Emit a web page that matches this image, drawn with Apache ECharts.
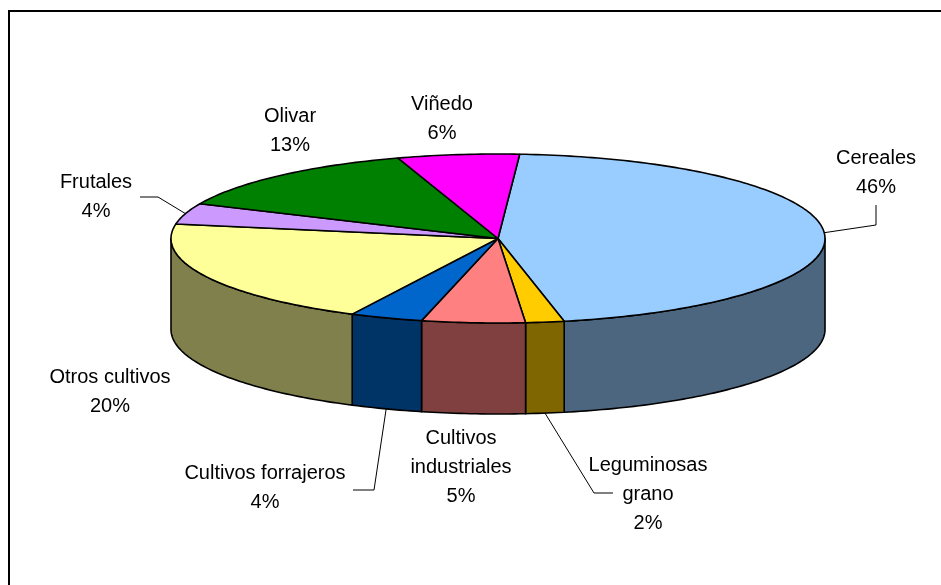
<!DOCTYPE html>
<html>
<head>
<meta charset="utf-8">
<script src="https://cdn.jsdelivr.net/npm/echarts@6/dist/echarts.min.js"></script>
<style>
html,body{margin:0;padding:0;background:#fff;}
#main{width:941px;height:585px;}
</style>
</head>
<body>
<div id="main"></div>
<script>
// datos (porcentajes)
const categories = ['Cereales', 'Leguminosas grano', 'Cultivos industriales', 'Cultivos forrajeros', 'Otros cultivos', 'Frutales', 'Olivar', 'Viñedo'];
const labelNames = ['Cereales', 'Leguminosas\ngrano', 'Cultivos\nindustriales', 'Cultivos forrajeros', 'Otros cultivos', 'Frutales', 'Olivar', 'Viñedo'];
const values = [45.7, 1.9, 5.1, 3.6, 20.4, 4.0, 13.3, 6.0];
const topColors = ['#99CCFF', '#FFCC00', '#FF8080', '#0066CC', '#FFFF99', '#CC99FF', '#008000', '#FF00FF'];

// layout
const cx = 498, cy = 238.5, rx = 327, ry = 84.5, depth = 91;
const startDeg = 3.8;
const labelPos = [[876, 173], [648, 494], [461, 467], [265, 488], [110, 392], [96, 197], [290, 131], [442, 119]];
const leaderPts = [[[876, 225], [876, 205]], [[594, 493], [613, 493]], null, [[374, 490], [353, 490]], null, [[158, 197], [140, 197]], null, null];

const total = values.reduce((a, b) => a + b, 0);

function darken(hex) {
  const n = parseInt(hex.slice(1), 16);
  const r = (n >> 16) & 255, g = (n >> 8) & 255, b = n & 255;
  return 'rgb(' + Math.round(r / 2) + ',' + Math.round(g / 2) + ',' + Math.round(b / 2) + ')';
}

function pt(deg, dy) {
  const t = deg * Math.PI / 180;
  return [cx + rx * Math.sin(t), cy - ry * Math.cos(t) + (dy || 0)];
}

function arc(a, b, dy) {
  const pts = [];
  const n = Math.max(2, Math.ceil(Math.abs(b - a)));
  for (let i = 0; i <= n; i++) pts.push(pt(a + (b - a) * i / n, dy));
  return pts;
}

function renderItem(params, api) {
  const i = params.dataIndex;
  let before = 0;
  for (let k = 0; k < i; k++) before += values[k];
  const v = api.value(0);
  const a0 = startDeg + before / total * 360;
  const a1 = a0 + v / total * 360;
  const mid = (a0 + a1) / 2;
  const children = [];

  // cara lateral (solo la parte frontal)
  const s = Math.max(a0, 90), e = Math.min(a1, 270);
  if (e > s) {
    const topArc = arc(s, e, 0);
    const botArc = arc(e, s, depth);
    children.push({
      type: 'polygon',
      z2: 1,
      shape: { points: topArc.concat(botArc) },
      style: { fill: darken(topColors[i]), stroke: '#000', lineWidth: 1.6, lineJoin: 'round' }
    });
  }

  // cara superior
  children.push({
    type: 'polygon',
    z2: 2,
    shape: { points: [[cx, cy]].concat(arc(a0, a1, 0)) },
    style: { fill: topColors[i], stroke: '#000', lineWidth: 1.6, lineJoin: 'round' }
  });

  // etiqueta
  children.push({
    type: 'text',
    z2: 5,
    style: {
      text: labelNames[i] + '\n' + Math.round(v) + '%',
      x: labelPos[i][0],
      y: labelPos[i][1],
      align: 'center',
      verticalAlign: 'middle',
      fontFamily: 'Liberation Sans, Arial, sans-serif',
      fontSize: 20,
      lineHeight: 29,
      fill: '#000'
    }
  });

  // línea guía
  if (leaderPts[i]) {
    const front = mid > 90 && mid < 270;
    const anchor = pt(mid, front ? depth : 0);
    children.push({
      type: 'polyline',
      z2: 4,
      shape: { points: [anchor].concat(leaderPts[i]) },
      style: { stroke: '#000', lineWidth: 1, fill: null }
    });
  }

  return { type: 'group', children: children };
}

const chart = echarts.init(document.getElementById('main'));
chart.setOption({
  animation: false,
  graphic: [{
    type: 'rect',
    shape: { x: 9, y: 11, width: 1000, height: 1000 },
    style: { fill: null, stroke: '#000', lineWidth: 2 },
    silent: true
  }],
  series: [{
    type: 'custom',
    coordinateSystem: 'none',
    renderItem: renderItem,
    data: values.map((v, i) => ({ name: categories[i], value: v }))
  }]
});
</script>
</body>
</html>
